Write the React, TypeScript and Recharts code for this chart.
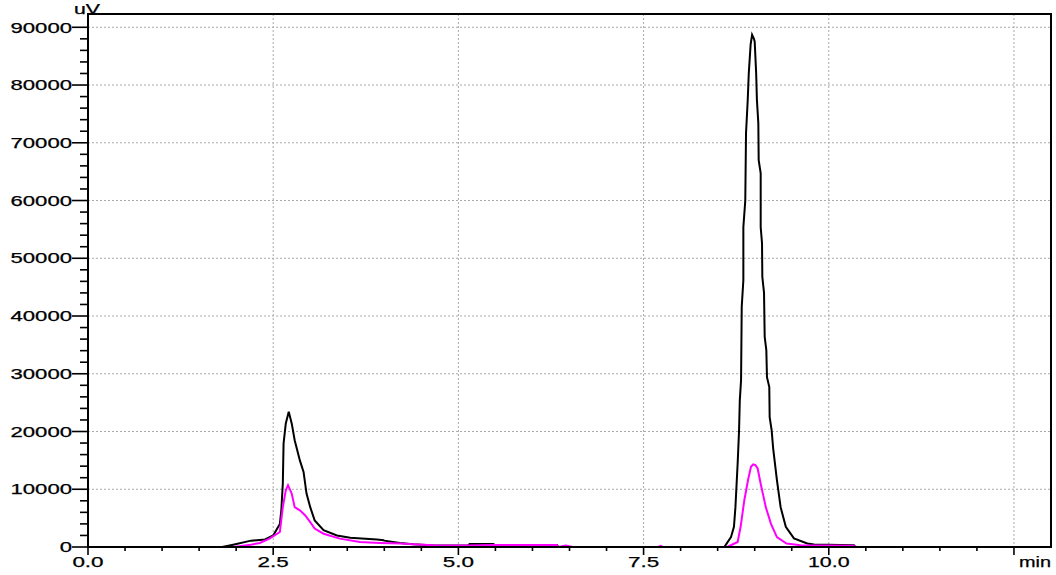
import React from 'react';
import { LineChart, Line, XAxis, YAxis, CartesianGrid, ReferenceArea } from 'recharts';

// Detector trace 1 (black): retention time in min, signal in uV
const blackTimes = [0, 1.81, 1.96, 2.2, 2.39, 2.5, 2.59, 2.61, 2.63, 2.64, 2.67, 2.71, 2.75, 2.79, 2.86, 2.91, 2.95, 3.0, 3.06, 3.18, 3.36, 3.54, 3.9, 3.99, 4.0, 4.21, 4.39, 4.68, 5.13, 5.15, 5.47, 5.49, 6.33, 6.35, 8.59, 8.68, 8.72, 8.74, 8.77, 8.789, 8.799, 8.816, 8.825, 8.847, 8.847, 8.873, 8.883, 8.906, 8.92, 8.945, 8.965, 8.99, 9.0, 9.02, 9.03, 9.049, 9.054, 9.081, 9.081, 9.099, 9.103, 9.126, 9.135, 9.157, 9.166, 9.197, 9.202, 9.229, 9.25, 9.3, 9.35, 9.42, 9.53, 9.71, 9.8, 10.34, 10.36, 13];
const blackValues = [0, 0, 400, 1100, 1300, 2000, 4000, 6400, 11000, 17900, 21400, 23400, 21400, 18500, 15000, 13000, 9250, 6900, 4600, 2900, 2000, 1600, 1300, 1160, 1100, 700, 470, 240, 240, 500, 500, 350, 350, 0, 0, 1700, 3500, 6900, 14500, 20200, 25400, 28900, 41600, 46200, 55400, 60000, 71700, 77400, 82000, 87000, 88700, 88000, 87500, 82000, 77400, 73400, 67000, 64700, 55400, 52600, 46800, 44000, 36400, 34100, 29400, 27700, 22500, 20200, 17000, 11600, 6900, 3500, 1500, 600, 420, 300, 0, 0];

// Detector trace 2 (magenta)
const magentaTimes = [0, 1.96, 2.2, 2.32, 2.45, 2.59, 2.63, 2.67, 2.7, 2.75, 2.79, 2.86, 2.93, 3.0, 3.06, 3.18, 3.4, 3.67, 3.94, 4.22, 4.44, 4.67, 5.13, 5.47, 6.33, 6.35, 6.45, 6.55, 7.7, 7.73, 7.76, 8.63, 8.77, 8.81, 8.86, 8.91, 8.95, 8.98, 9.01, 9.04, 9.08, 9.15, 9.22, 9.3, 9.43, 9.62, 10.34, 10.36, 13];
const magentaValues = [0, 0, 400, 700, 1450, 2600, 6900, 9800, 10700, 9250, 6900, 6350, 5500, 4300, 3200, 2300, 1450, 870, 700, 590, 420, 300, 280, 330, 330, 0, 250, 0, 0, 200, 0, 0, 870, 3500, 8100, 11600, 13900, 14300, 14200, 13600, 11000, 6900, 4000, 1700, 600, 300, 200, 0, 0];

const blackData = blackTimes.map((t, i) => ({ t, v: blackValues[i] }));
const magentaData = magentaTimes.map((t, i) => ({ t, v: magentaValues[i] }));

const yTicks = [0, 2000, 4000, 6000, 8000, 10000, 12000, 14000, 16000, 18000, 20000, 22000, 24000, 26000, 28000, 30000, 32000, 34000, 36000, 38000, 40000, 42000, 44000, 46000, 48000, 50000, 52000, 54000, 56000, 58000, 60000, 62000, 64000, 66000, 68000, 70000, 72000, 74000, 76000, 78000, 80000, 82000, 84000, 86000, 88000, 90000];
const yGridValues = [10000, 20000, 30000, 40000, 50000, 60000, 70000, 80000, 90000];
const xTicks = [0, 0.5, 1, 1.5, 2, 2.5, 3, 3.5, 4, 4.5, 5, 5.5, 6, 6.5, 7, 7.5, 8, 8.5, 9, 9.5, 10, 10.5, 11, 11.5, 12, 12.5];
const xGridValues = [2.5, 5, 7.5, 10, 12.5];
const xMajorTicks = [0, 2.5, 5, 7.5, 10, 12.5];
const xTickLabels = ['0.0', '2.5', '5.0', '7.5', '10.0', 'min'];
const yUnit = 'uV';

const X_MAX = 13;
const Y_MAX = 92300;
const FONT = '"Liberation Sans", Arial, Helvetica, sans-serif';
const CHAR_W = 10.4;

const YTick = (props: any) => {
  const { x, y, payload } = props;
  const v = payload.value as number;
  const major = v % 10000 === 0;
  const label = String(v);
  return (
    <g>
      <line x1={x - (major ? 16 : 8)} x2={x} y1={y} y2={y} stroke="#000" strokeWidth={1.6} />
      {major && (
        <text
          x={x - 16}
          y={y}
          dy="0.36em"
          textAnchor="end"
          fontFamily={FONT}
          fontSize={14.5}
          fill="#000"
          stroke="#000"
          strokeWidth={0.25}
          textLength={12.3 * label.length}
          lengthAdjust="spacingAndGlyphs"
        >
          {label}
        </text>
      )}
      {v === 90000 && (
        <text
          x={x - 1}
          y={y - 12.8}
          textAnchor="middle"
          fontFamily={FONT}
          fontSize={14}
          fill="#000"
          stroke="#000"
          strokeWidth={0.25}
          textLength={26}
          lengthAdjust="spacingAndGlyphs"
        >
          {yUnit}
        </text>
      )}
    </g>
  );
};

const XTick = (props: any) => {
  const { x, y, payload } = props;
  const v = payload.value as number;
  const idx = xMajorTicks.indexOf(v);
  const major = idx >= 0;
  const label = major ? xTickLabels[idx] : '';
  const isUnit = label === 'min';
  return (
    <g>
      <line x1={x} x2={x} y1={y} y2={y + (major ? 8 : 4)} stroke="#000" strokeWidth={1.6} />
      {major && (
        <text
          x={isUnit ? x + 21 : x}
          y={y + 15}
          dy="0.36em"
          textAnchor="middle"
          fontFamily={FONT}
          fontSize={14.5}
          fill="#000"
          stroke="#000"
          strokeWidth={0.25}
          textLength={isUnit ? 32 : CHAR_W * label.length}
          lengthAdjust="spacingAndGlyphs"
        >
          {label}
        </text>
      )}
    </g>
  );
};

export default function App() {
  return (
    <div style={{ position: 'absolute', left: 0, top: 0, background: '#fff' }}>
      <LineChart width={1056} height={575} margin={{ top: 14, right: 5, bottom: 0, left: 0 }}>
        <CartesianGrid
          stroke="#aaaaaa"
          strokeDasharray="2 2"
          horizontalValues={yGridValues}
          verticalValues={xGridValues}
        />
        <XAxis
          type="number"
          dataKey="t"
          domain={[0, X_MAX]}
          ticks={xTicks}
          interval={0}
          height={28}
          tickSize={0}
          tickMargin={0}
          tickLine={false}
          axisLine={{ stroke: '#000', strokeWidth: 2 }}
          tick={<XTick />}
          allowDataOverflow
        />
        <YAxis
          type="number"
          domain={[0, Y_MAX]}
          ticks={yTicks}
          interval={0}
          width={88}
          tickSize={0}
          tickMargin={0}
          tickLine={false}
          axisLine={{ stroke: '#000', strokeWidth: 2 }}
          tick={<YTick />}
          allowDataOverflow
        />
        <ReferenceArea
          x1={0}
          x2={X_MAX}
          y1={0}
          y2={Y_MAX}
          fill="none"
          stroke="#000"
          strokeWidth={2}
          fillOpacity={0}
          ifOverflow="visible"
        />
        <Line
          data={blackData}
          dataKey="v"
          type="linear"
          stroke="#000000"
          strokeWidth={2}
          dot={false}
          activeDot={false}
          isAnimationActive={false}
        />
        <Line
          data={magentaData}
          dataKey="v"
          type="linear"
          stroke="#ff00ff"
          strokeWidth={2}
          dot={false}
          activeDot={false}
          isAnimationActive={false}
        />
      </LineChart>
    </div>
  );
}
